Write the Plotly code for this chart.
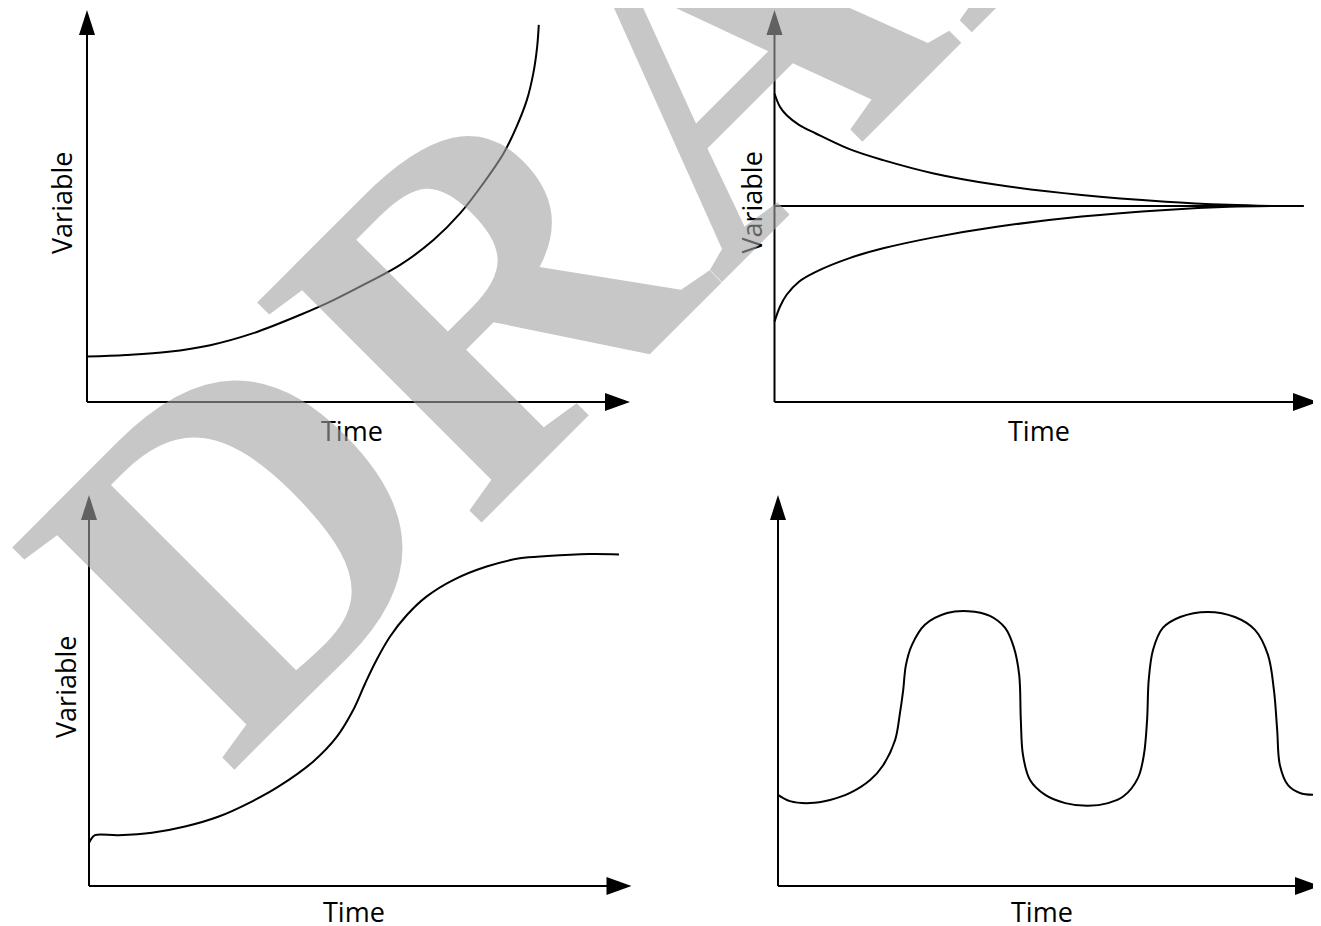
import plotly.graph_objects as go

W, H = 1321, 926
OFF = 8  # default page margin around the plot div
FW, FH = W - OFF, H - OFF

# Panel 1: runaway growth (time / variable on a 0-10 axis scale)
p1_time = [0.0, 0.72, 1.50, 2.27, 3.05, 3.92, 4.54, 5.15, 5.76, 6.38, 6.87, 7.30, 7.67, 7.91, 8.10, 8.22, 8.29, 8.32]
p1_value = [1.16, 1.20, 1.28, 1.45, 1.75, 2.22, 2.60, 3.03, 3.49, 4.13, 4.81, 5.58, 6.34, 7.02, 7.70, 8.39, 9.06, 9.62]

# Panel 2: convergence to equilibrium from above / below, plus the equilibrium itself
p2_time = [0.0, 0.10, 0.22, 0.45, 0.76, 1.38, 2.00, 2.93, 4.09, 5.65, 7.20, 8.36, 9.14]
p2_upper = [7.87, 7.53, 7.32, 7.07, 6.85, 6.45, 6.17, 5.83, 5.54, 5.28, 5.11, 5.03, 5.00]
p2_lower = [2.05, 2.43, 2.73, 3.07, 3.32, 3.67, 3.92, 4.20, 4.47, 4.73, 4.90, 4.98, 5.00]
p2_eq_time = [0.0, 9.74]
p2_eq_value = [5.0, 5.0]

# Panel 3: S-shaped growth
p3_time = [0.0, 0.04, 0.11, 0.54, 1.16, 1.77, 2.38, 3.00, 3.49, 4.13, 4.57, 4.87, 5.09, 5.30,
           5.55, 5.86, 6.22, 6.72, 7.33, 7.94, 8.45, 9.22, 9.77]
p3_value = [1.10, 1.20, 1.30, 1.30, 1.36, 1.52, 1.77, 2.16, 2.54, 3.18, 3.82, 4.50, 5.18, 5.78,
            6.38, 6.93, 7.40, 7.83, 8.17, 8.38, 8.44, 8.49, 8.48]

# Panel 4: oscillation
p4_time = [0.0, 0.22, 0.59, 0.96, 1.33, 1.70, 1.94, 2.16, 2.25, 2.31, 2.36, 2.47, 2.71, 3.12, 3.51,
           3.91, 4.19, 4.35, 4.45, 4.48, 4.52, 4.65, 4.93, 5.30, 5.72, 6.09, 6.38, 6.64, 6.75, 6.81,
           6.84, 6.92, 7.10, 7.42, 7.93, 8.43, 8.80, 9.04, 9.15, 9.21, 9.26, 9.41, 9.63, 10.0]
p4_value = [2.33, 2.17, 2.12, 2.20, 2.38, 2.71, 3.09, 3.73, 4.42, 5.01, 5.65, 6.16, 6.68, 6.98, 7.03,
            6.91, 6.60, 6.11, 5.40, 4.25, 3.35, 2.71, 2.33, 2.12, 2.05, 2.12, 2.30, 2.76, 3.35, 4.25,
            5.27, 6.04, 6.60, 6.88, 7.01, 6.88, 6.55, 5.91, 5.01, 3.99, 3.09, 2.58, 2.38, 2.33]

# axis frame of each panel in page pixels: origin, x arrow tip, y arrow tip
panels = [
    dict(origin=(87, 402), xtip=630, ytip=10),
    dict(origin=(774.5, 402), xtip=1318, ytip=10),
    dict(origin=(89, 886), xtip=631.5, ytip=495),
    dict(origin=(778, 886), xtip=1320, ytip=495),
]
AX_MAX = 10
PAD = 14

series = [
    [(p1_time, p1_value)],
    [(p2_eq_time, p2_eq_value), (p2_time, p2_upper), (p2_time, p2_lower)],
    [(p3_time, p3_value)],
    [(p4_time, p4_value)],
]


def px(x):
    return (x - OFF) / FW


def py(y):
    return 1 - (y - OFF) / FH


fig = go.Figure()
shapes = []
line_style = dict(color='black', width=2)

for i, (pan, traces) in enumerate(zip(panels, series), start=1):
    ox, oy = pan['origin']
    sx = (pan['xtip'] - ox) / AX_MAX
    sy = (oy - pan['ytip']) / AX_MAX
    left, right = max(OFF, ox - PAD), min(W, pan['xtip'] + PAD)
    top, bottom = max(OFF, pan['ytip'] - PAD), min(H, oy + PAD)
    fig.update_layout({
        f'xaxis{i}': dict(domain=[px(left), px(right)], range=[(left - ox) / sx, (right - ox) / sx],
                          visible=False, anchor=f'y{i}'),
        f'yaxis{i}': dict(domain=[py(bottom), py(top)], range=[(oy - bottom) / sy, (oy - top) / sy],
                          visible=False, anchor=f'x{i}'),
    })
    xr, yr = f'x{i}', f'y{i}'
    for tx, ty in traces:
        fig.add_trace(go.Scatter(x=tx, y=ty, mode='lines',
                                 line=dict(color='black', width=2, shape='spline', smoothing=1.0),
                                 xaxis=xr, yaxis=yr, showlegend=False, hoverinfo='skip'))
    # axes with arrow heads
    shapes.append(dict(type='line', xref=xr, yref=yr, x0=0, y0=0, x1=AX_MAX - 10 / sx, y1=0, line=line_style))
    shapes.append(dict(type='line', xref=xr, yref=yr, x0=0, y0=0, x1=0, y1=AX_MAX - 10 / sy, line=line_style))
    shapes.append(dict(type='path', xref=xr, yref=yr, xsizemode='pixel', ysizemode='pixel',
                       xanchor=AX_MAX, yanchor=0, path='M0,0 L-25,9 L-25,-9 Z',
                       fillcolor='black', line=dict(width=0)))
    shapes.append(dict(type='path', xref=xr, yref=yr, xsizemode='pixel', ysizemode='pixel',
                       xanchor=0, yanchor=AX_MAX, path='M0,0 L-8,-25 L8,-25 Z',
                       fillcolor='black', line=dict(width=0)))

label_font = dict(family='Open Sans', size=27, color='black')
annotations = []
for cx, cy in [(352, 430), (1039, 430), (354, 911), (1041.5, 911)]:
    annotations.append(dict(text='Time', x=px(cx), y=py(cy), xref='paper', yref='paper',
                            xanchor='center', yanchor='middle', showarrow=False, font=label_font))
for cx, cy in [(61, 203), (750.6, 203), (65, 687)]:
    annotations.append(dict(text='Variable', x=px(cx), y=py(cy), xref='paper', yref='paper',
                            xanchor='center', yanchor='middle', showarrow=False, textangle=-90,
                            font=label_font))

# watermark over everything
annotations.append(dict(text='DRAFT', x=px(698), y=py(77), xref='paper', yref='paper',
                        xanchor='center', yanchor='middle', showarrow=False, textangle=-45,
                        font=dict(family='Liberation Serif', size=480, weight='bold',
                                  color='rgba(162,162,162,0.6)')))

fig.update_layout(width=FW, height=FH, margin=dict(l=0, r=0, t=0, b=0),
                  paper_bgcolor='white', plot_bgcolor='white',
                  shapes=shapes, annotations=annotations)

fig.write_html('out.html')
